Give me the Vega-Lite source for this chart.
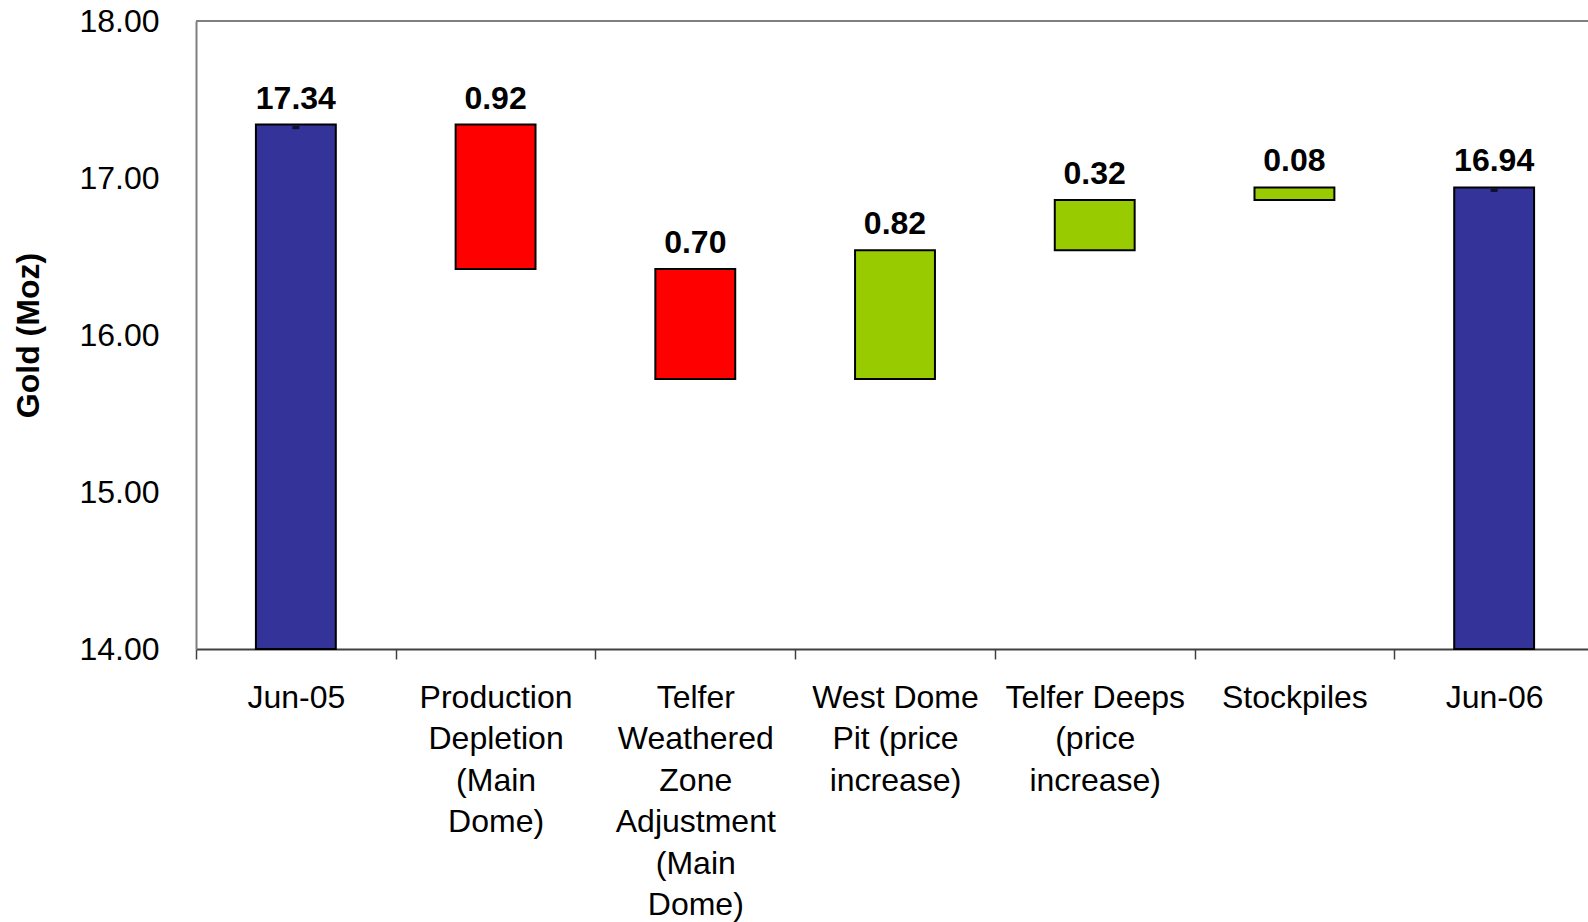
{
  "$schema": "https://vega.github.io/schema/vega-lite/v6.json",
  "autosize": {"type": "none"},
  "padding": {"left": 196, "top": 21, "right": 0, "bottom": 273},
  "width": 1392,
  "height": 628,
  "background": "white",
  "config": {
    "view": {"stroke": null},
    "font": "Liberation Sans"
  },
  "data": {
    "values": [
      {"step": "Jun-05", "kind": "total", "low": 0, "high": 17.34, "amount": 17.34},
      {"step": "Production|Depletion|(Main|Dome)", "kind": "decrease", "low": 16.42, "high": 17.34, "amount": 0.92},
      {"step": "Telfer|Weathered|Zone|Adjustment|(Main|Dome)", "kind": "decrease", "low": 15.72, "high": 16.42, "amount": 0.70},
      {"step": "West Dome|Pit (price|increase)", "kind": "increase", "low": 15.72, "high": 16.54, "amount": 0.82},
      {"step": "Telfer Deeps|(price|increase)", "kind": "increase", "low": 16.54, "high": 16.86, "amount": 0.32},
      {"step": "Stockpiles", "kind": "increase", "low": 16.86, "high": 16.94, "amount": 0.08},
      {"step": "Jun-06", "kind": "total", "low": 0, "high": 16.94, "amount": 16.94}
    ]
  },
  "encoding": {
    "x": {
      "field": "step",
      "type": "nominal",
      "sort": null,
      "scale": {"range": [0, 1398], "paddingInner": 0, "paddingOuter": 0},
      "axis": {
        "title": null,
        "labelAngle": 0,
        "labelExpr": "split(datum.label, '|')",
        "labelFontSize": 32,
        "labelLineHeight": 41.5,
        "labelColor": "black",
        "labelPadding": 23,
        "labelLimit": 0,
        "labelOverlap": false,
        "labelBaseline": "top",
        "tickBand": "extent",
        "tickSize": 10,
        "tickColor": "#404040",
        "tickWidth": 1.5,
        "domainColor": "#404040",
        "domainWidth": 2,
        "grid": false
      }
    }
  },
  "layer": [
    {
      "mark": {"type": "rule", "color": "#808080", "strokeWidth": 2},
      "encoding": {"x": null, "y": {"datum": 18, "type": "quantitative"}}
    },
    {
      "mark": {"type": "bar", "width": {"band": 0.4}, "stroke": "black", "strokeWidth": 2},
      "encoding": {
        "y": {
          "field": "high",
          "type": "quantitative",
          "scale": {"domain": [14, 18], "clamp": true, "nice": false, "zero": false},
          "axis": {
            "values": [14, 15, 16, 17, 18],
            "format": ".2f",
            "grid": false,
            "ticks": false,
            "domainColor": "#808080",
            "domainWidth": 2,
            "labelFontSize": 32,
            "labelColor": "black",
            "labelPadding": 37,
            "title": "Gold (Moz)",
            "titleFontSize": 32,
            "titleFontWeight": "bold",
            "titleColor": "black",
            "titleX": -168,
            "titleBaseline": "middle"
          }
        },
        "y2": {"field": "low"},
        "color": {
          "field": "kind",
          "type": "nominal",
          "scale": {"domain": ["total", "decrease", "increase"], "range": ["#333399", "#FF0000", "#99CC00"]},
          "legend": null
        }
      }
    },
    {
      "transform": [{"filter": "datum.kind == 'total'"}],
      "mark": {"type": "tick", "color": "black", "size": 7, "thickness": 3, "yOffset": 3},
      "encoding": {"y": {"field": "high", "type": "quantitative"}}
    },
    {
      "mark": {"type": "text", "fontSize": 32, "fontWeight": "bold", "color": "black", "baseline": "alphabetic", "dy": -16},
      "encoding": {
        "y": {"field": "high", "type": "quantitative"},
        "text": {"field": "amount", "type": "quantitative", "format": ".2f"}
      }
    }
  ]
}
